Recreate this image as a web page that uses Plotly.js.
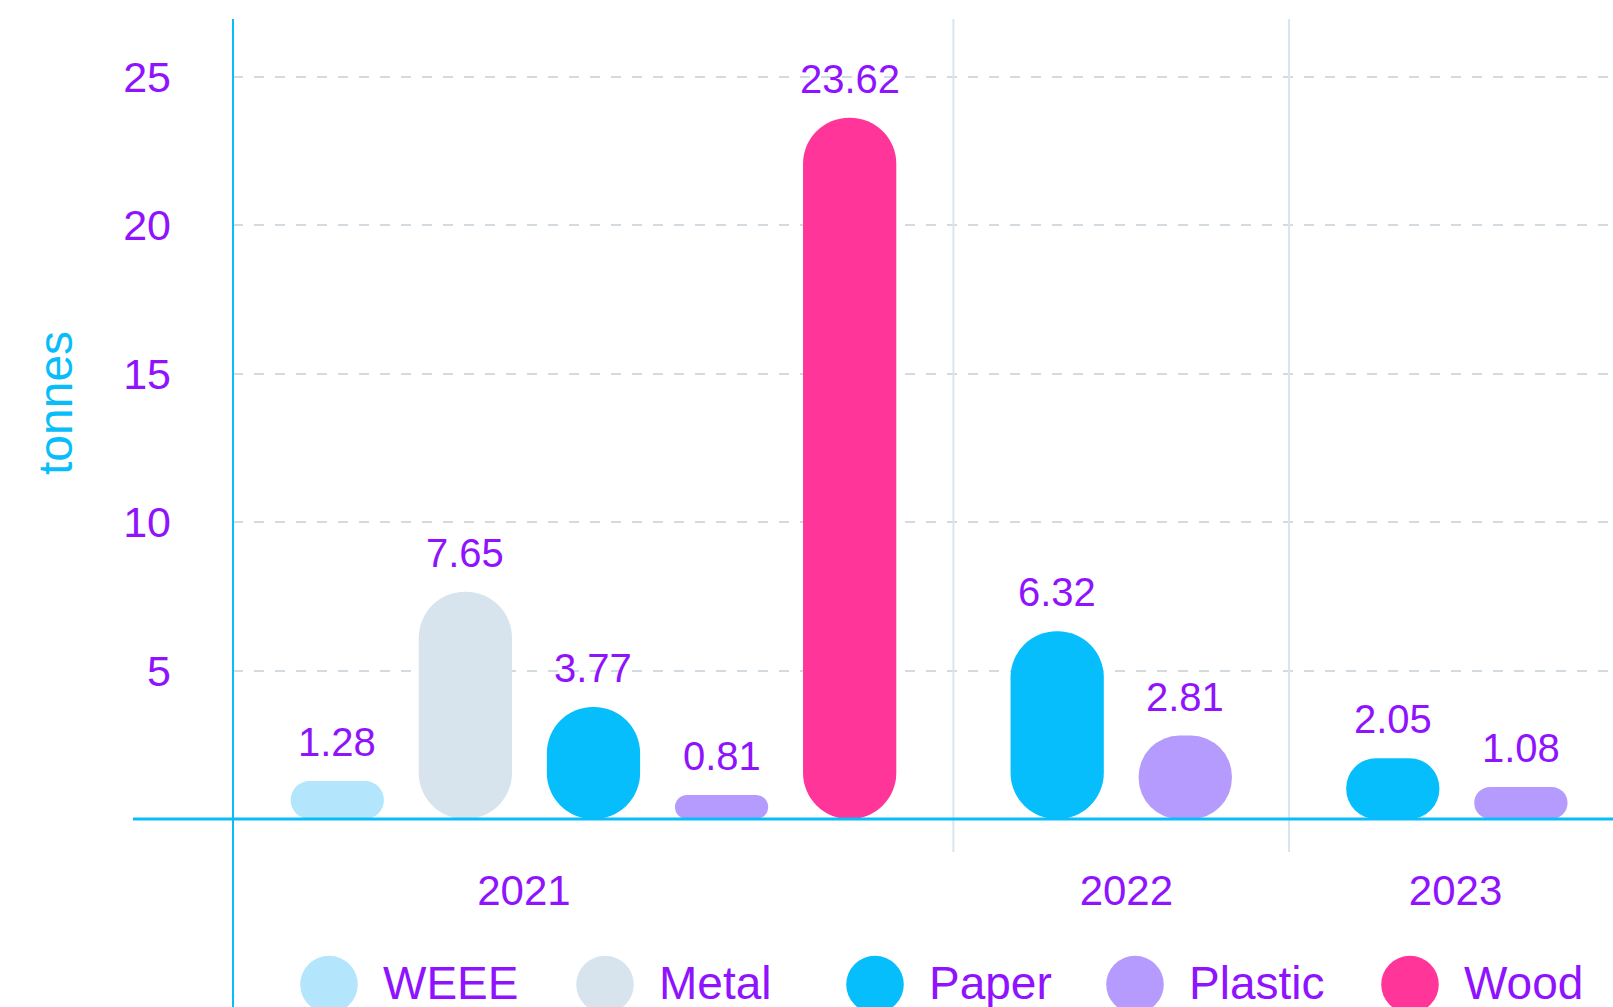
<!DOCTYPE html>
<html>
<head>
<meta charset="utf-8">
<script src="https://cdn.plot.ly/plotly-3.0.1.min.js"></script>
<style>html,body{margin:0;padding:0;background:#fff;overflow:hidden}</style>
</head>
<body>
<div id="chart" style="width:1613px;height:1007px"></div>
<script>
// ---------------- data ----------------
const years = ['2021', '2022', '2023'];
const materials = ['WEEE', 'Metal', 'Paper', 'Plastic', 'Wood'];
// tonnes per year (null = no bar that year)
const weee    = [1.28, null, null];
const metal   = [7.65, null, null];
const paper   = [3.77, 6.32, 2.05];
const plastic = [0.81, 2.81, 1.08];
const wood    = [23.62, null, null];
const yTicks  = [5, 10, 15, 20, 25];
const yTitle  = 'tonnes';

// ---------------- style / layout constants ----------------
const seriesValues = [weee, metal, paper, plastic, wood];
const colors = ['#B3E5FC', '#D8E4ED', '#06BEFC', '#B49BFD', '#FF3599'];
const PURPLE = '#9013FE';
const BLUE = '#08BDF9';
const FONT = '"Liberation Sans", Arial, Helvetica, sans-serif';
const W = 1613, H = 1007;
const M = {l: 233, r: 0, t: 19, b: 188};
const plotW = W - M.l - M.r, plotH = H - M.t - M.b;
const GROUP_GAP = 0.62;      // extra space between year groups (category units)
const BAR_W = 0.728;         // bar width (category units)
const X_RANGE = [-0.814, 9.959];
const Y_RANGE = [0, 26.945];
const YEAR_LABEL_X = [1.457, 6.16, 8.73];
const LEGEND_CX = [329, 605, 875, 1135, 1410];   // px
const LEGEND_CY = 984.5, LEGEND_D = 57.6, LEGEND_TEXT_DX = 52;

const pxPerX = plotW / (X_RANGE[1] - X_RANGE[0]);
const pxPerY = plotH / (Y_RANGE[1] - Y_RANGE[0]);
const barPx = BAR_W * pxPerX;
const px2paperX = px => (px - M.l) / plotW;
const px2paperY = py => (H - M.b - py) / plotH;

// ---------------- slot positions (computed from data order) ----------------
const positions = materials.map(() => years.map(() => null));
const groupBounds = [];
let slot = 0;
years.forEach((yr, yi) => {
  let first = null, last = null;
  materials.forEach((m, mi) => {
    if (seriesValues[mi][yi] == null) return;
    const p = slot + yi * GROUP_GAP;
    positions[mi][yi] = p;
    if (first === null) first = p;
    last = p;
    slot++;
  });
  groupBounds.push([first, last]);
});

// ---------------- traces (pill-shaped bars, explicit base => all corners rounded) ----------------
const traces = [];
const annotations = [];
materials.forEach((m, mi) => {
  years.forEach((yr, yi) => {
    const v = seriesValues[mi][yi];
    if (v == null) return;
    const x = positions[mi][yi];
    const r = Math.floor(Math.min(barPx / 2, v * pxPerY / 2) * 10) / 10;
    traces.push({
      type: 'bar', x: [x], y: [v], base: [0], width: BAR_W, name: m + ' ' + yr,
      marker: {color: colors[mi], line: {width: 0}, cornerradius: r},
      showlegend: false,
      hovertemplate: m + ' ' + yr + ': ' + v.toFixed(2) + ' tonnes<extra></extra>'
    });
    annotations.push({
      x: x, y: v, xref: 'x', yref: 'y', text: v.toFixed(2), showarrow: false,
      xanchor: 'center', yanchor: 'bottom', yshift: 15,
      font: {family: FONT, size: 40, color: PURPLE}
    });
  });
});

// y axis title
annotations.push({
  x: px2paperX(55), y: px2paperY(403), xref: 'paper', yref: 'paper',
  text: yTitle, textangle: -90, showarrow: false,
  xanchor: 'center', yanchor: 'middle',
  font: {family: FONT, size: 48, color: BLUE}
});

// ---------------- shapes ----------------
const shapes = [];
// year group dividers
for (let g = 0; g < groupBounds.length - 1; g++) {
  const dx = (groupBounds[g][1] + groupBounds[g + 1][0]) / 2;
  shapes.push({type: 'line', xref: 'x', yref: 'paper', x0: dx, x1: dx,
    y0: px2paperY(852), y1: 1, line: {color: '#D9E4EE', width: 2}});
}
// axis lines
shapes.push({type: 'line', xref: 'paper', yref: 'paper', x0: 0, x1: 0,
  y0: 1, y1: px2paperY(H + 5), line: {color: BLUE, width: 2}});
shapes.push({type: 'line', xref: 'paper', yref: 'paper', x0: px2paperX(133), x1: 1.01,
  y0: 0, y1: 0, line: {color: BLUE, width: 3}});
// legend
materials.forEach((m, mi) => {
  const cx = LEGEND_CX[mi];
  shapes.push({type: 'circle', xref: 'paper', yref: 'paper',
    x0: px2paperX(cx - LEGEND_D / 2), x1: px2paperX(cx + LEGEND_D / 2),
    y0: px2paperY(LEGEND_CY + LEGEND_D / 2), y1: px2paperY(LEGEND_CY - LEGEND_D / 2),
    fillcolor: colors[mi], line: {width: 0}});
  annotations.push({x: px2paperX(cx + LEGEND_TEXT_DX), y: px2paperY(LEGEND_CY - 2),
    xref: 'paper', yref: 'paper', text: m, showarrow: false,
    xanchor: 'left', yanchor: 'middle',
    font: {family: FONT, size: 46, color: PURPLE}});
});

const layout = {
  width: W, height: H,
  margin: M,
  paper_bgcolor: '#ffffff', plot_bgcolor: '#ffffff',
  barmode: 'overlay',
  showlegend: false,
  font: {family: FONT, color: PURPLE},
  xaxis: {
    range: X_RANGE, fixedrange: true,
    tickvals: YEAR_LABEL_X, ticktext: years,
    showgrid: false, zeroline: false, showline: false, ticks: '',
    ticklabelstandoff: 43,
    tickfont: {family: FONT, size: 42, color: PURPLE}
  },
  yaxis: {
    range: Y_RANGE, fixedrange: true,
    tickvals: yTicks, ticktext: yTicks.map(String),
    showgrid: true, gridcolor: '#D3DBE2', gridwidth: 1.5, griddash: '10px,11px',
    zeroline: false, showline: false, ticks: '',
    ticklabelstandoff: 61,
    tickfont: {family: FONT, size: 43, color: PURPLE}
  },
  shapes: shapes,
  annotations: annotations
};

Plotly.newPlot('chart', traces, layout, {displayModeBar: false, responsive: false});
</script>
</body>
</html>
